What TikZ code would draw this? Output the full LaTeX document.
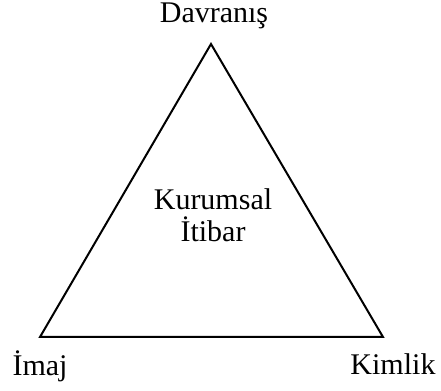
\documentclass[tikz,border=0pt]{standalone}
\usepackage{fontspec}
\setmainfont{Liberation Serif}
\usetikzlibrary{positioning}

\begin{document}
\begin{tikzpicture}[
    x=0.5pt, y=-0.5pt,
    %% -- Node styles ------------------------------------------------------
    %%
    %% lbl: plain text label at a corner of the triangle
    lbl/.style={
        font=\fontsize{15}{16}\selectfont,
        inner sep=0pt,
        anchor=base,
    },
    %% core: the text in the middle, two lines (base = last line)
    core/.style={lbl, align=center},
    %% -- Edge style -------------------------------------------------------
    side/.style={draw=black, line width=1pt, line join=miter},
]
\useasboundingbox (0,0) rectangle (441,391);

%% -- Corners ---------------------------------------------------------------

\coordinate (Top)   at (211,44);
\coordinate (Left)  at (40,337);
\coordinate (Right) at (383,337);

%% -- Labels ----------------------------------------------------------------

\node[lbl] (Davranis) at (214,23)  {Davranış};
\node[lbl] (Imaj)     at (40,376)  {İmaj};
\node[lbl] (Kimlik)   at (393,375) {Kimlik};
\node[core] (Itibar)  at (213,242) {Kurumsal\\İtibar};

%% -- Triangle --------------------------------------------------------------

\draw[side] (Top) -- (Right) -- (Left) -- cycle;

\end{tikzpicture}
\end{document}
